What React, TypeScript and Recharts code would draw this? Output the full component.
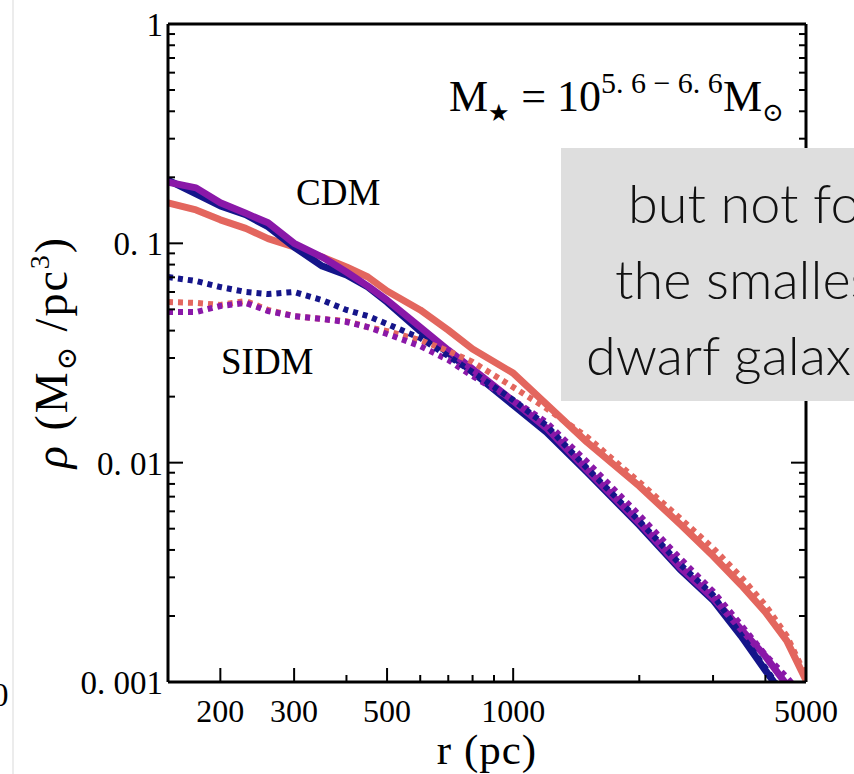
import React from 'react';
import { LineChart, Line, XAxis, YAxis } from 'recharts';

// radii (pc) at which the profiles were read
const RADII = [150, 175, 200, 230, 260, 300, 350, 400, 450, 500, 600, 700, 800, 1000, 1200, 1500, 2000, 2500, 3000, 3500, 4000, 4500, 5000];

// CDM (solid)
const CDM_NAVY = [0.194, 0.168, 0.148, 0.135, 0.119, 0.0962, 0.0788, 0.0717, 0.0632, 0.054, 0.0398, 0.0316, 0.0259, 0.0183, 0.0138, 0.00906, 0.00519, 0.00327, 0.00236, 0.00162, 0.00113, 0.00083, 0.00066];
const CDM_PURPLE = [0.19, 0.179, 0.153, 0.137, 0.124, 0.1, 0.0866, 0.074, 0.0638, 0.0551, 0.0415, 0.0326, 0.0267, 0.0191, 0.0144, 0.00925, 0.00531, 0.00334, 0.00241, 0.00174, 0.00131, 0.00097, 0.00079];
const CDM_SALMON = [0.153, 0.142, 0.128, 0.117, 0.105, 0.0962, 0.0866, 0.078, 0.0702, 0.0606, 0.0497, 0.0402, 0.033, 0.0256, 0.0185, 0.0124, 0.00782, 0.00525, 0.00375, 0.00277, 0.00208, 0.00154, 0.00102];

// SIDM (dotted)
const SIDM_NAVY = [0.0702, 0.0673, 0.0632, 0.06, 0.0587, 0.06, 0.0551, 0.0497, 0.0466, 0.0429, 0.037, 0.0306, 0.0259, 0.0193, 0.0148, 0.00945, 0.00542, 0.00345, 0.00249, 0.00164, 0.00116, 0.00083, 0.00066];
const SIDM_PURPLE = [0.0486, 0.0486, 0.0518, 0.0535, 0.0491, 0.0466, 0.0452, 0.0438, 0.0415, 0.0386, 0.034, 0.0294, 0.0248, 0.0193, 0.0153, 0.0101, 0.00577, 0.00367, 0.00259, 0.00182, 0.00133, 0.00105, 0.00083];
const SIDM_SALMON = [0.054, 0.0535, 0.0524, 0.0546, 0.0497, 0.0466, 0.0452, 0.0442, 0.0415, 0.0398, 0.0362, 0.0323, 0.0288, 0.0221, 0.0177, 0.0131, 0.00816, 0.00559, 0.00408, 0.00301, 0.00224, 0.00162, 0.00106];

const X_TICKS = [200, 300, 400, 500, 600, 700, 800, 900, 1000, 2000, 3000, 4000, 5000];
const X_LABELS = [200, 300, 500, 1000, 5000];
const Y_TICKS = [
  0.001, 0.002, 0.003, 0.004, 0.005, 0.006, 0.007, 0.008, 0.009,
  0.01, 0.02, 0.03, 0.04, 0.05, 0.06, 0.07, 0.08, 0.09,
  0.1, 0.2, 0.3, 0.4, 0.5, 0.6, 0.7, 0.8, 0.9, 1,
];
const Y_LABELS = [1, 0.1, 0.01, 0.001];
const Y_LABEL_TEXT = ['1', '0. 1', '0. 01', '0. 001'];

const NAVY = '#15158a';
const PURPLE = '#8a18a8';
const SALMON = '#e3665e';
const SERIF = '"Liberation Serif", "DejaVu Serif", serif';

const data = RADII.map((r, i) => ({
  r,
  cdmNavy: CDM_NAVY[i],
  cdmPurple: CDM_PURPLE[i],
  cdmSalmon: CDM_SALMON[i],
  sidmNavy: SIDM_NAVY[i],
  sidmPurple: SIDM_PURPLE[i],
  sidmSalmon: SIDM_SALMON[i],
}));

const BottomTick = ({ x, y, payload }: any) => {
  const v = payload.value;
  const major = X_LABELS.includes(v);
  return (
    <g>
      <line x1={x} x2={x} y1={y} y2={y - (major ? 14 : 7)} stroke="#000" strokeWidth={2} />
      {major && (
        <text x={x} y={y + 40} textAnchor="middle" fontFamily={SERIF} fontSize={32} fill="#000">
          {v}
        </text>
      )}
    </g>
  );
};

const TopTick = ({ x, y, payload }: any) => {
  const major = X_LABELS.includes(payload.value);
  return <line x1={x} x2={x} y1={y} y2={y + (major ? 14 : 7)} stroke="#000" strokeWidth={2} />;
};

const LeftTick = ({ x, y, payload }: any) => {
  const idx = Y_LABELS.indexOf(payload.value);
  return (
    <g>
      <line x1={x} x2={x + (idx >= 0 ? 15 : 7)} y1={y} y2={y} stroke="#000" strokeWidth={2} />
      {idx >= 0 && (
        <text x={x - 5} y={y} dy="0.36em" textAnchor="end" fontFamily={SERIF} fontSize={33} fill="#000">
          {Y_LABEL_TEXT[idx]}
        </text>
      )}
    </g>
  );
};

const RightTick = ({ x, y, payload }: any) => {
  const major = Y_LABELS.includes(payload.value);
  return <line x1={x} x2={x - (major ? 15 : 7)} y1={y} y2={y} stroke="#000" strokeWidth={2} />;
};

const axisLine = { stroke: '#000', strokeWidth: 3 };

const App: React.FC = () => {
  return (
    <div style={{ position: 'absolute', left: 0, top: 0, width: 854, height: 774, background: '#fff', overflow: 'hidden' }}>
      <LineChart width={854} height={774} data={data} margin={{ top: 23, right: 47, bottom: 91, left: 167 }}>
        <XAxis
          dataKey="r"
          type="number"
          scale="log"
          domain={[150, 5000]}
          allowDataOverflow
          ticks={X_TICKS}
          interval={0}
          height={1}
          tickSize={0}
          tickMargin={0}
          tickLine={false}
          axisLine={axisLine}
          tick={<BottomTick />}
        />
        <XAxis
          xAxisId="top"
          orientation="top"
          type="number"
          scale="log"
          domain={[150, 5000]}
          allowDataOverflow
          ticks={X_TICKS}
          interval={0}
          height={1}
          tickSize={0}
          tickMargin={0}
          tickLine={false}
          axisLine={axisLine}
          tick={<TopTick />}
        />
        <YAxis
          type="number"
          scale="log"
          domain={[0.001, 1]}
          allowDataOverflow
          ticks={Y_TICKS}
          interval={0}
          width={1}
          tickSize={0}
          tickMargin={0}
          tickLine={false}
          axisLine={axisLine}
          tick={<LeftTick />}
        />
        <YAxis
          yAxisId="right"
          orientation="right"
          type="number"
          scale="log"
          domain={[0.001, 1]}
          allowDataOverflow
          ticks={Y_TICKS}
          interval={0}
          width={1}
          tickSize={0}
          tickMargin={0}
          tickLine={false}
          axisLine={axisLine}
          tick={<RightTick />}
        />
        <Line dataKey="cdmSalmon" stroke={SALMON} strokeWidth={7} dot={false} isAnimationActive={false} strokeLinejoin="round" />
        <Line dataKey="cdmNavy" stroke={NAVY} strokeWidth={7} dot={false} isAnimationActive={false} strokeLinejoin="round" />
        <Line dataKey="cdmPurple" stroke={PURPLE} strokeWidth={7} dot={false} isAnimationActive={false} strokeLinejoin="round" />
        <Line dataKey="sidmSalmon" stroke={SALMON} strokeWidth={6} strokeDasharray="5 5" dot={false} isAnimationActive={false} />
        <Line dataKey="sidmPurple" stroke={PURPLE} strokeWidth={6} strokeDasharray="5 5" dot={false} isAnimationActive={false} />
        <Line dataKey="sidmNavy" stroke={NAVY} strokeWidth={6} strokeDasharray="5 5" dot={false} isAnimationActive={false} />
      </LineChart>

      <svg width={854} height={774} style={{ position: 'absolute', left: 0, top: 0, pointerEvents: 'none' }}>
        <line x1={13} x2={13} y1={0} y2={774} stroke="#ececec" strokeWidth={2} />
        <text x={-8} y={706} fontFamily={SERIF} fontSize={33} fill="#000">0</text>

        <text x={296} y={205} fontFamily={SERIF} fontSize={37} fill="#000">CDM</text>
        <text x={221} y={374} fontFamily={SERIF} fontSize={37} fill="#000">SIDM</text>

        <text x={449} y={111} fontFamily={SERIF} fontSize={44} fill="#000">
          M<tspan fontSize={24} dy={10}>★</tspan>
          <tspan dy={-10}> = 10</tspan>
          <tspan fontSize={30} dy={-18}>5. 6 − 6. 6</tspan>
          <tspan dy={18}>M</tspan>
          <tspan fontSize={26} dy={10}>⊙</tspan>
        </text>

        <text x={487} y={764} textAnchor="middle" fontFamily={SERIF} fontSize={43} letterSpacing={1} fill="#000">r (pc)</text>
        <text
          transform="translate(67 352) rotate(-90)"
          textAnchor="middle"
          fontFamily={SERIF}
          fontSize={46}
          letterSpacing={2}
          fill="#000"
        >
          <tspan fontStyle="italic">ρ</tspan> (M<tspan fontSize={28} dy={9}>⊙</tspan>
          <tspan dy={-9}> /pc</tspan>
          <tspan fontSize={28} dy={-18}>3</tspan>
          <tspan dy={18}>)</tspan>
        </text>

        <rect x={561} y={148} width={300} height={253} fill="#dedede" />
        <text fontFamily="Lato, 'Open Sans', sans-serif" fontWeight={300} fontSize={54} fill="#111">
          <tspan x={628} y={223}>but not for</tspan>
          <tspan x={615} y={299}>the smallest</tspan>
          <tspan x={586} y={375}>dwarf galaxies</tspan>
        </text>
      </svg>
    </div>
  );
};

export default App;
